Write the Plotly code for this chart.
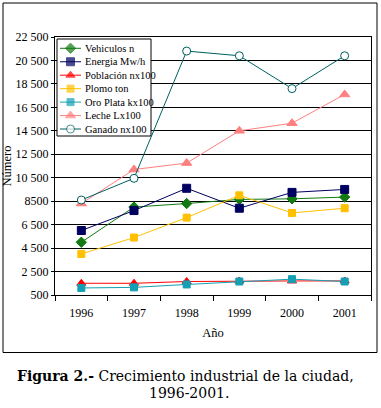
import plotly.graph_objects as go

years = ["1996", "1997", "1998", "1999", "2000", "2001"]
vehiculos = [5000, 8000, 8300, 8650, 8700, 8850]
energia = [6000, 7700, 9600, 7900, 9250, 9500]
poblacion = [1500, 1500, 1650, 1700, 1700, 1700]
plomo = [4000, 5400, 7100, 9000, 7500, 7900]
oro_plata = [1100, 1150, 1400, 1650, 1850, 1650]
leche = [8300, 11200, 11750, 14500, 15150, 17600]
ganado = [8600, 10450, 21300, 20900, 18100, 20900]

y_tickvals = [500, 2500, 4500, 6500, 8500, 10500, 12500, 14500, 16500, 18500, 20500, 22500]
y_ticktext = ["500", "2 500", "4 500", "6 500", "8500", "10 500", "12 500", "14 500",
              "16 500", "18 500", "20 500", "22 500"]

series_names = ["Vehiculos n", "Energia Mw/h", "Población nx100", "Plomo ton",
                "Oro Plata kx100", "Leche Lx100", "Ganado nx100"]
series_values = [vehiculos, energia, poblacion, plomo, oro_plata, leche, ganado]
series_colors = ["#117a11", "#000060", "#ff0000", "#ffc000", "#14a0b4", "#ff8080", "#006060"]
series_symbols = ["diamond", "square", "triangle-up", "square", "square", "triangle-up", "circle"]
series_fill = ["#117a11", "#000060", "#ff0000", "#ffc000", "#14a0b4", "#ff8080", "#ffffff"]
series_msize = [8, 8, 8, 7, 7, 9, 8]

FONT = "Liberation Serif, Times New Roman, serif"
CAP_FONT = "DejaVu Serif, serif"

W, H = 381, 408
L, R, T, B = 55, 10, 37, 113
pw, ph = W - L - R, H - T - B
Y0, Y1 = 500, 22500


def px(x):
    return (x - L) / pw


def py(y):
    return (H - B - y) / ph


def dx(x):
    return (x - L) / pw * len(years) - 0.5


def dy(y):
    return Y0 + (H - B - y) / ph * (Y1 - Y0)


fig = go.Figure()
for name, vals, col, sym, fill, sz in zip(series_names, series_values, series_colors,
                                          series_symbols, series_fill, series_msize):
    fig.add_trace(go.Scatter(
        x=years, y=vals, name=name, mode="lines+markers", showlegend=False,
        line=dict(color=col, width=1),
        marker=dict(symbol=sym, size=sz, color=fill, line=dict(color=col, width=1)),
    ))

# compact legend drawn on pixel-space overlay axes
LEG_X0, LEG_X1, LEG_Y0, LEG_Y1 = 57, 151, 39, 136
ROW0, ROWH = 48.3, 13.45
annotations = []
for i, (name, col, sym, fill, sz) in enumerate(zip(series_names, series_colors, series_symbols,
                                                   series_fill, series_msize)):
    yc = ROW0 + i * ROWH
    fig.add_trace(go.Scatter(
        x=[60, 70.5, 81], y=[yc, yc, yc], mode="lines+markers", showlegend=False,
        xaxis="x2", yaxis="y2", hoverinfo="skip",
        line=dict(color=col, width=1),
        marker=dict(symbol=sym, size=[0, sz, 0], color=fill, line=dict(color=col, width=1)),
    ))
    annotations.append(dict(
        xref="x2", yref="y2", x=83, y=yc, xanchor="left", yanchor="middle",
        showarrow=False, text=name, font=dict(family=FONT, size=10.5, color="black"),
    ))

annotations.append(dict(
    xref="paper", yref="paper", x=px(185), y=py(376), xanchor="center", yanchor="middle",
    showarrow=False, text="<b>Figura 2.-</b> Crecimiento industrial de la ciudad,",
    font=dict(family=CAP_FONT, size=14, color="black"),
))
annotations.append(dict(
    xref="paper", yref="paper", x=px(189), y=py(393), xanchor="center", yanchor="middle",
    showarrow=False, text="1996-2001.",
    font=dict(family=CAP_FONT, size=14, color="black"),
))

fig.update_layout(
    width=W, height=H,
    margin=dict(l=L, r=R, t=T, b=B, autoexpand=False),
    paper_bgcolor="white", plot_bgcolor="white",
    font=dict(family=FONT, size=12, color="black"),
    showlegend=False,
    xaxis=dict(
        type="category", showgrid=False, showline=True, linecolor="black", linewidth=1,
        mirror=True, ticks="outside", tickson="boundaries", ticklen=5, tickcolor="black",
        tickfont=dict(family=FONT, size=12), zeroline=False, ticklabelstandoff=7,
        title=dict(text="Año", font=dict(family=FONT, size=12.5), standoff=8),
        automargin=False, range=[-0.5, len(years) - 0.5],
    ),
    yaxis=dict(
        range=[Y0, Y1], tickvals=y_tickvals, ticktext=y_ticktext,
        showgrid=True, gridcolor="black", gridwidth=1,
        showline=True, linecolor="black", linewidth=1, mirror=True,
        ticks="outside", ticklen=3, tickcolor="black",
        tickfont=dict(family=FONT, size=12), zeroline=False,
        title=dict(text="Número", font=dict(family=FONT, size=12.5), standoff=1),
        automargin=False,
    ),
    xaxis2=dict(overlaying="x", anchor="y2", range=[L, W - R], visible=False,
                fixedrange=True),
    yaxis2=dict(overlaying="y", anchor="x2", range=[H - B, T], visible=False,
                fixedrange=True),
    shapes=[
        dict(type="rect", xref="paper", yref="paper",
             x0=px(3), x1=px(377), y0=py(352.5), y1=py(3),
             line=dict(color="black", width=1), fillcolor="rgba(0,0,0,0)"),
        dict(type="rect", xref="x", yref="y", layer="between",
             x0=dx(LEG_X0), x1=dx(LEG_X1), y0=dy(LEG_Y1), y1=dy(LEG_Y0),
             line=dict(color="black", width=1), fillcolor="white"),
    ],
    annotations=annotations,
)

fig.write_html("out.html", config={"displayModeBar": False},
               post_script="document.body.style.margin='0';")
